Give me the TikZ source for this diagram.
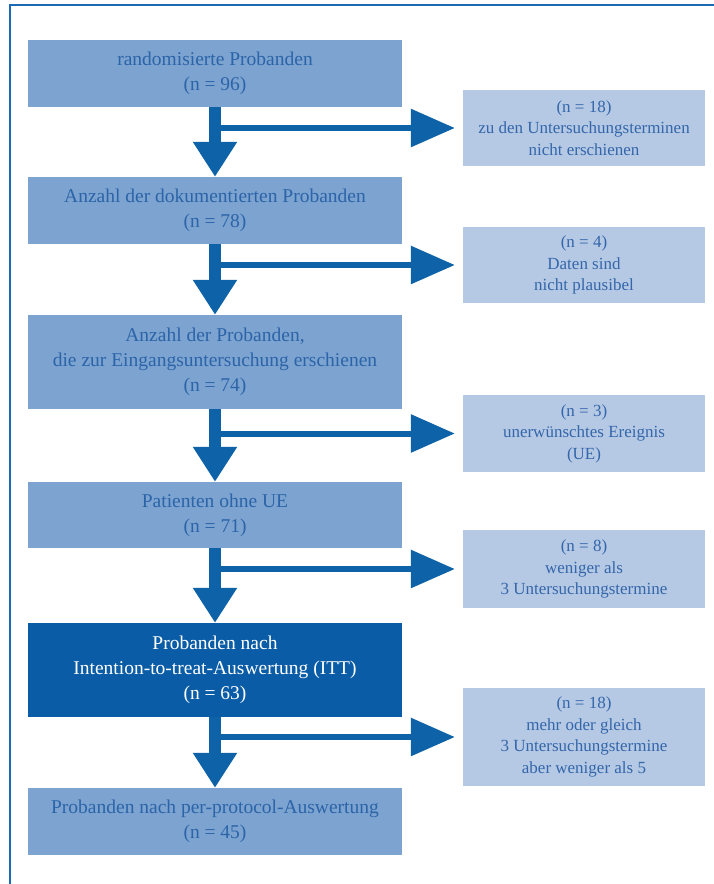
\documentclass[tikz,border=0pt]{standalone}
\usepackage{fontspec}
\setmainfont{Liberation Serif}
\usetikzlibrary{arrows.meta}
\definecolor{frameblue}{HTML}{1B6AB3}
\definecolor{arrowblue}{HTML}{0D62A8}
\definecolor{stagefill}{HTML}{7DA3D0}
\definecolor{stagetext}{HTML}{2B64A8}
\definecolor{ittfill}{HTML}{0A5CA6}
\definecolor{dropfill}{HTML}{B6C9E4}
\definecolor{droptext}{HTML}{3366AA}
\tikzstyle{stage}=[rectangle,fill=stagefill,text=stagetext,align=center,inner sep=0pt,minimum width=374pt,font=\fontsize{19.5}{25}\selectfont]
\tikzstyle{itt}=[stage,fill=ittfill,text=white]
\tikzstyle{drop}=[rectangle,fill=dropfill,text=droptext,align=center,inner sep=0pt,minimum width=242pt,font=\fontsize{17}{21.5}\selectfont]
\tikzstyle{down}=[draw=arrowblue,line width=12pt,-{Triangle[width=42pt,length=35pt]}]
\tikzstyle{sidearrow}=[draw=arrowblue,line width=6pt,shorten >=8pt,-{Triangle[width=37pt,length=44pt]}]
\tikzstyle{frameline}=[draw=frameblue,line width=2.5pt]

\begin{document}
\begin{tikzpicture}[x=1pt,y=-1pt]
			\useasboundingbox (0,0) rectangle (714,884);
			\draw[frameline] (10,884) -- (10,5) -- (714,5);
			\foreach \n/\y/\h/\t in {1/73.5/67/{randomisierte Probanden\\(n = 96)},
				2/210.5/67/{Anzahl der dokumentierten Probanden\\(n = 78)},
				3/362/94/{Anzahl der Probanden,\\die zur Eingangsuntersuchung erschienen\\(n = 74)},
				4/515/66/{Patienten ohne UE\\(n = 71)},
				5/670/94/{Probanden nach\\Intention-to-treat-Auswertung (ITT)\\(n = 63)},
				6/821.5/67/{Probanden nach per-protocol-Auswertung\\(n = 45)}}
			{
				\ifnum \n=5
				\node[itt,minimum height=\h pt] (main\n) at (215,\y) {\t};
				\else
				\node[stage,minimum height=\h pt] (main\n) at (215,\y) {\t};
				\fi
			}
			\foreach \n/\y/\h/\t in {1/128/76/{(n = 18)\\zu den Untersuchungsterminen\\nicht erschienen},
				2/265/76/{(n = 4)\\Daten sind\\nicht plausibel},
				3/433.5/77/{(n = 3)\\unerwünschtes Ereignis\\(UE)},
				4/569/78/{(n = 8)\\weniger als\\3 Untersuchungstermine},
				5/737/98/{(n = 18)\\mehr oder gleich\\3 Untersuchungstermine\\aber weniger als 5}}
			{
				\node[drop,minimum height=\h pt] (side\n) at (584,\y) {\t};
			}
			\foreach \a/\b in {1/2,2/3,3/4,4/5,5/6}
			{
				\draw[sidearrow] (side\a.west -| main\a.south) -- (side\a.west);
				\draw[down] (main\a.south) -- (main\b.north);
			}
		\end{tikzpicture}
\end{document}
